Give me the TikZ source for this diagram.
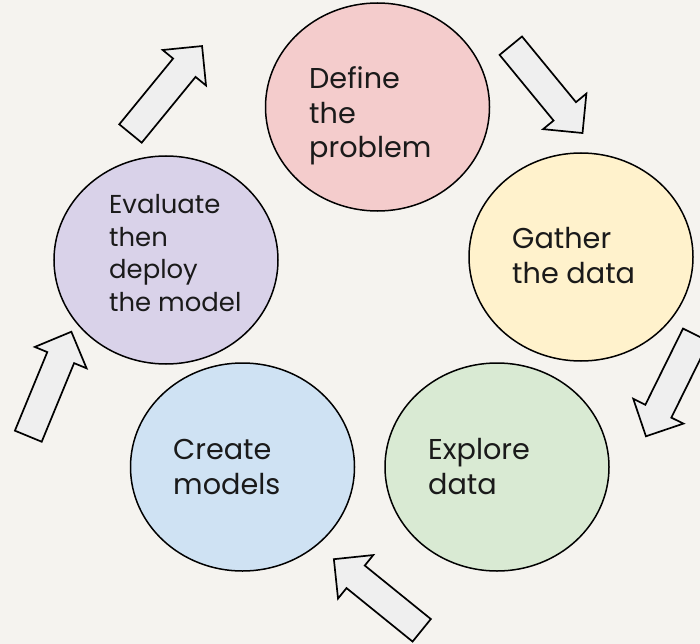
\documentclass[tikz,border=0pt]{standalone}
\usepackage{fontspec}
\setmainfont{Poppins}
\usetikzlibrary{shapes.geometric}
\definecolor{bg}{HTML}{F5F3EF}
\definecolor{cpink}{HTML}{F4CCCC}
\definecolor{cyellow}{HTML}{FFF2CC}
\definecolor{cgreen}{HTML}{D9EAD3}
\definecolor{cblue}{HTML}{CFE2F3}
\definecolor{cpurple}{HTML}{D9D2E9}
\definecolor{arrowfill}{HTML}{EFEFEF}
\definecolor{txt}{HTML}{1A1A1A}
\newcommand{\blockarrow}[3]{%
  \begin{scope}[shift={(#1,#2)},rotate=#3]
    \draw[arrowshape] (0,-14.5) -- (85,-14.5) -- (85,-28) -- (113,0) -- (85,28) -- (85,14.5) -- (0,14.5) -- cycle;
  \end{scope}}
\begin{document}
\begin{tikzpicture}[x=1bp,y=-1bp,
  stage/.style={ellipse,draw=black,line width=1.5bp,inner sep=0pt,minimum width=224bp,minimum height=208bp},
  arrowshape/.style={draw=black,fill=arrowfill,line width=1.7bp,line join=miter},
  lbl/.style={anchor=base west,align=left,inner sep=0pt,text=txt,font=\fontsize{28.8}{35}\selectfont},
  lblsmall/.style={lbl,font=\fontsize{26}{32.5}\selectfont}]
\fill[bg] (0,0) rectangle (700,644);
\useasboundingbox (0,0) rectangle (700,644);
\node[stage,fill=cpink]   (define)   at (377.5,107) {};
\node[stage,fill=cyellow] (gather)   at (581,257) {};
\node[stage,fill=cgreen]  (explore)  at (497,467) {};
\node[stage,fill=cblue]   (create)   at (242.5,467) {};
\node[stage,fill=cpurple] (evaluate) at (166,260) {};
\node[lbl] (definet) at (309,158) {Define\\the\\problem};
\node[lbl] (gathert) at (512,283) {Gather\\the data};
\node[lbl] (exploret) at (428,494) {Explore\\data};
\node[lbl] (createt) at (173,494) {Create\\models};
\node[lblsmall] (evaluatet) at (109,311) {Evaluate\\then\\deploy\\the model};
\blockarrow{130.5}{133.5}{50.7}
\blockarrow{510.8}{45.7}{-50.6}
\blockarrow{696}{335}{-116.3}
\blockarrow{421.7}{630.3}{141}
\blockarrow{28.3}{436.2}{67.6}
\end{tikzpicture}
\end{document}
